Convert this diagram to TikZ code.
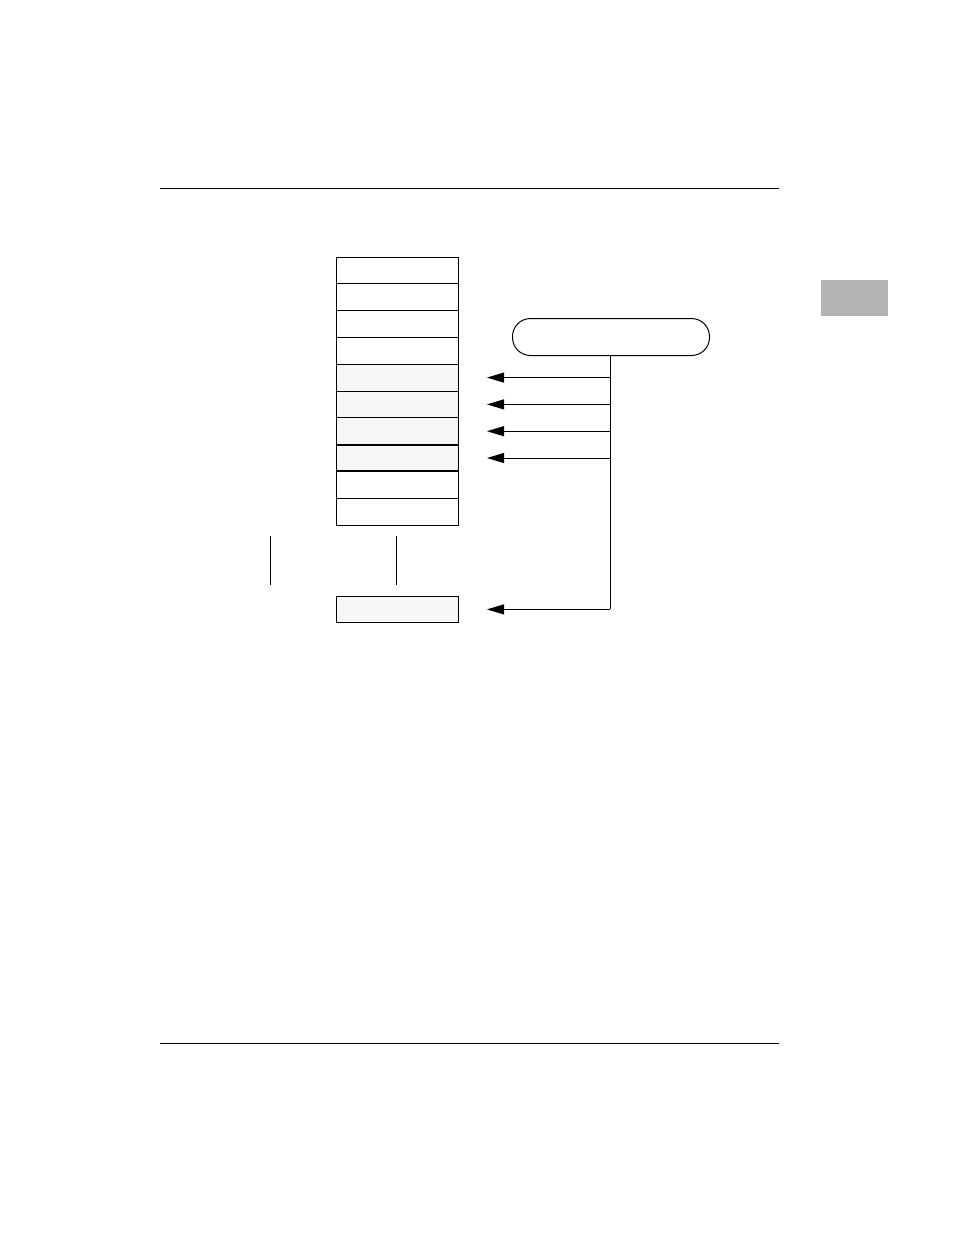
\documentclass[tikz,border=0pt]{standalone}
\usepackage{xcolor}
\usepackage{tikz}
\usetikzlibrary{positioning,arrows.meta}
\definecolor{cellgrey}{HTML}{F7F7F7}
\definecolor{tabgrey}{HTML}{B3B3B3}
\tikzset{
  rowbox/.style = {draw, line width=1pt, minimum width=122pt, minimum height=26.8pt,
                   inner sep=0pt, outer sep=0pt},
  shaded/.style = {rowbox, fill=cellgrey},
  feed/.style   = {-{Triangle[length=17pt,width=10pt]}, line width=1pt}
}
\begin{document}
\begin{tikzpicture}[x=1pt, y=-1pt, node distance = 0pt]
                            \useasboundingbox (0,0) rectangle (954,1235);

                            % page rules and side tab
                            \draw[line width=1pt] (160,188) -- (779,188);
                            \draw[line width=1pt] (160,1043) -- (779,1043);
                            \fill[tabgrey] (821,280) rectangle (888,316);

                            % stack of cells
                            \node (c1) [rowbox, anchor=north west] at (336,257) {};
                            \foreach \i [remember=\i as \j (initially 1)] in {2,...,10} {
                              \ifnum\i>4 \ifnum\i<9
                                \node (c\i) [shaded, below = of c\j] {};
                              \else
                                \node (c\i) [rowbox, below = of c\j] {};
                              \fi \else
                                \node (c\i) [rowbox, below = of c\j] {};
                              \fi
                            }
                            \draw[line width=2pt] (c8.north west) -- (c8.north east);
                            \draw[line width=2pt] (c8.south west) -- (c8.south east);

                            \node (last) [shaded, anchor=north west] at (336,596) {};

                            % tick marks between the stack and the last cell
                            \draw[line width=1pt] (270,536) -- (270,585);
                            \draw[line width=1pt] (396,536) -- (396,585);

                            % source and its feeds
                            \node (src) [draw, line width=1pt, rounded corners=18pt,
                                         minimum width=197pt, minimum height=37pt,
                                         anchor=north west] at (512,318) {};
                            \coordinate (bot) at ([xshift=152pt]last.east);
                            \draw[line width=1pt] (src.south -| bot) -- (bot);

                            \foreach \i in {5,...,8} {
                              \coordinate (t\i) at ([xshift=29pt]c\i.east);
                              \draw[feed] (t\i -| bot) -- (t\i);
                            }
                            \coordinate (tl) at ([xshift=29pt]last.east);
                            \draw[feed] (bot) -- (tl);
                        \end{tikzpicture}
\end{document}
